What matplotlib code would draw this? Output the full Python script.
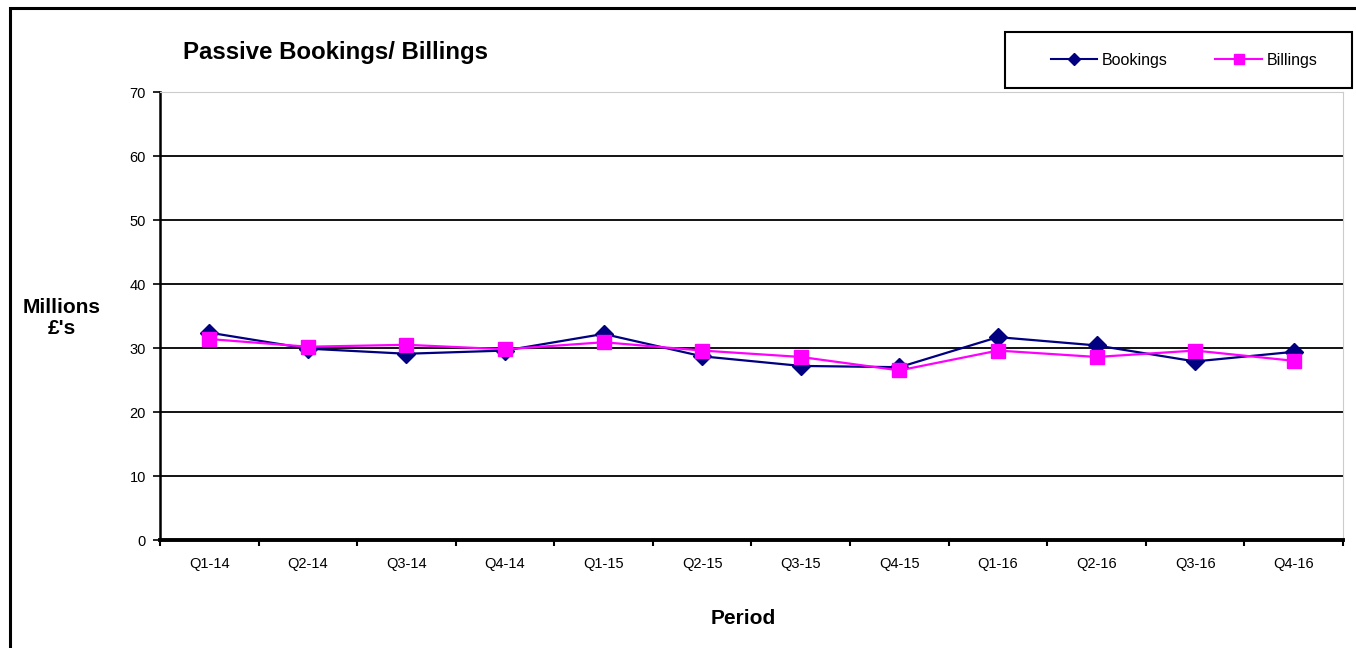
import matplotlib.pyplot as plt
from matplotlib.lines import Line2D
from matplotlib.patches import Rectangle

plt.rcParams['font.family'] = ['Liberation Sans', 'DejaVu Sans']

# data (Millions £)
periods = ['Q1-14', 'Q2-14', 'Q3-14', 'Q4-14', 'Q1-15', 'Q2-15',
           'Q3-15', 'Q4-15', 'Q1-16', 'Q2-16', 'Q3-16', 'Q4-16']
bookings = [32.4, 29.9, 29.1, 29.6, 32.2, 28.7, 27.2, 27.0, 31.7, 30.4, 27.9, 29.4]
billings = [31.4, 30.2, 30.5, 29.8, 30.9, 29.6, 28.6, 26.5, 29.6, 28.6, 29.6, 28.0]
y_ticks = [0, 10, 20, 30, 40, 50, 60, 70]

navy = '#000080'
pink = '#FF00FF'

W, H = 1356, 648
fig = plt.figure(figsize=(W / 100, H / 100), dpi=100)
ax = fig.add_axes([160 / W, 1 - 540 / H, (1343 - 160) / W, (540 - 92) / H])

x = list(range(len(periods)))
ax.plot(x, bookings, color=navy, lw=1.6, marker='D', ms=9, zorder=3)
ax.plot(x, billings, color=pink, lw=1.6, marker='s', ms=10, zorder=4)

ax.set_xlim(-0.5, len(periods) - 0.5)
ax.set_ylim(0, 70)
ax.set_yticks(y_ticks)
ax.set_xticks(x)
ax.set_xticklabels(periods)
ax.set_xticks([i - 0.5 for i in range(len(periods) + 1)], minor=True)
ax.tick_params(axis='x', which='major', length=0, pad=12, labelsize=10.5)
ax.tick_params(axis='x', which='minor', length=4, width=1.5, direction='out')
ax.tick_params(axis='y', length=5, width=1.2, direction='out', labelsize=10.5, pad=5)

for v in y_ticks[1:-1]:
    ax.axhline(v, color='black', lw=1.3, zorder=1)

ax.spines['left'].set_linewidth(1.8)
ax.spines['bottom'].set_linewidth(2.8)
ax.spines['top'].set_color('#cccccc')
ax.spines['right'].set_color('#cccccc')

fig.text(183 / W, 1 - 52 / H, 'Passive Bookings/ Billings', fontsize=17.3,
         fontweight='bold', va='center', ha='left')
fig.text(62 / W, 1 - 318 / H, "Millions\n£'s", fontsize=15, fontweight='bold',
         ha='center', va='center', linespacing=1.15)
fig.text(743 / W, 1 - 618 / H, 'Period', fontsize=15, fontweight='bold',
         ha='center', va='center')

# outer chart frame (left and top edges visible)
fig.patches.append(Rectangle((10 / W, -0.1), 1.2, 1 - 8 / H + 0.1, fill=False,
                             ec='black', lw=2.2, transform=fig.transFigure))

# legend box
fig.patches.append(Rectangle((1005 / W, 1 - 88 / H), (1352 - 1005) / W, 56 / H,
                             fill=False, ec='black', lw=1.5, transform=fig.transFigure))
handles = [Line2D([], [], color=navy, lw=1.5, marker='D', ms=6),
           Line2D([], [], color=pink, lw=1.5, marker='s', ms=7)]
fig.legend(handles, ['Bookings', 'Billings'], loc='center',
           bbox_to_anchor=(1184 / W, 1 - 60 / H), ncol=2, frameon=False,
           fontsize=11.5, handlelength=2.9, handletextpad=0.3, columnspacing=3)

fig.savefig('out.png', dpi=100)
